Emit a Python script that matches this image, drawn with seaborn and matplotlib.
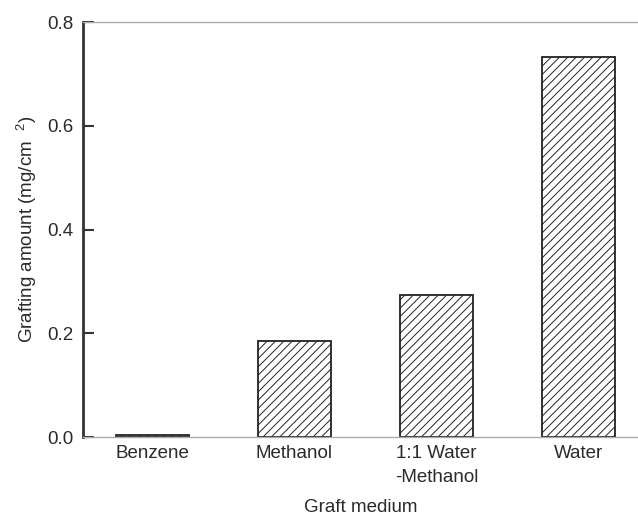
import matplotlib
matplotlib.use("Agg")
import matplotlib.pyplot as plt
import seaborn as sns
import pandas as pd

categories = ["Benzene", "Methanol", "1:1 Water\n-Methanol", "Water"]
values = [0.004, 0.185, 0.274, 0.732]
yticks = [0.0, 0.2, 0.4, 0.6, 0.8]
ytick_labels = ["0.0", "0.2", "0.4", "0.6", "0.8"]

sns.set_theme(style="white")
plt.rcParams["font.family"] = ["Liberation Sans", "DejaVu Sans"]
plt.rcParams["mathtext.fontset"] = "custom"
plt.rcParams["mathtext.rm"] = "Liberation Sans"
plt.rcParams["mathtext.it"] = "Liberation Sans"
plt.rcParams["hatch.linewidth"] = 0.7
plt.rcParams["hatch.color"] = "#444444"

df = pd.DataFrame({"medium": categories, "amount": values})

fs = 13.5
tc = "#2a2a2a"
fig = plt.figure(figsize=(6.38, 5.17), dpi=100)
ax = fig.add_axes([0.130, 0.1547, 0.870, 0.8023])
sns.barplot(data=df, x="medium", y="amount", ax=ax, color="white",
            edgecolor="#222222", linewidth=1.3, hatch="////", width=0.51,
            saturation=1)
for p in ax.patches:
    p.set_facecolor("white")
ax.set_xlim(-0.49, 3.42)
ax.set_ylim(0, 0.8)
ax.set_yticks(yticks)
ax.set_yticklabels(ytick_labels)
ax.tick_params(axis="y", direction="in", length=8, width=1.5, color="#333333",
               labelsize=fs, left=True, pad=7, labelcolor=tc)
ax.tick_params(axis="x", length=0, labelsize=fs, pad=5.5, labelcolor=tc)
for t in ax.get_xticklabels():
    t.set_linespacing(1.6)
ax.set_xlabel("Graft medium", fontsize=fs, labelpad=9, color=tc)
ax.set_ylabel("Grafting amount (mg/cm  $^{2}$)", fontsize=fs, labelpad=6, color=tc)
ax.spines["left"].set_linewidth(2.0)
ax.spines["left"].set_color("#333333")
ax.spines["bottom"].set_linewidth(1.0)
ax.spines["bottom"].set_color("#aaaaaa")
ax.spines["top"].set_linewidth(1.0)
ax.spines["top"].set_color("#aaaaaa")
ax.spines["right"].set_visible(False)

fig.savefig("out.png", dpi=100)
